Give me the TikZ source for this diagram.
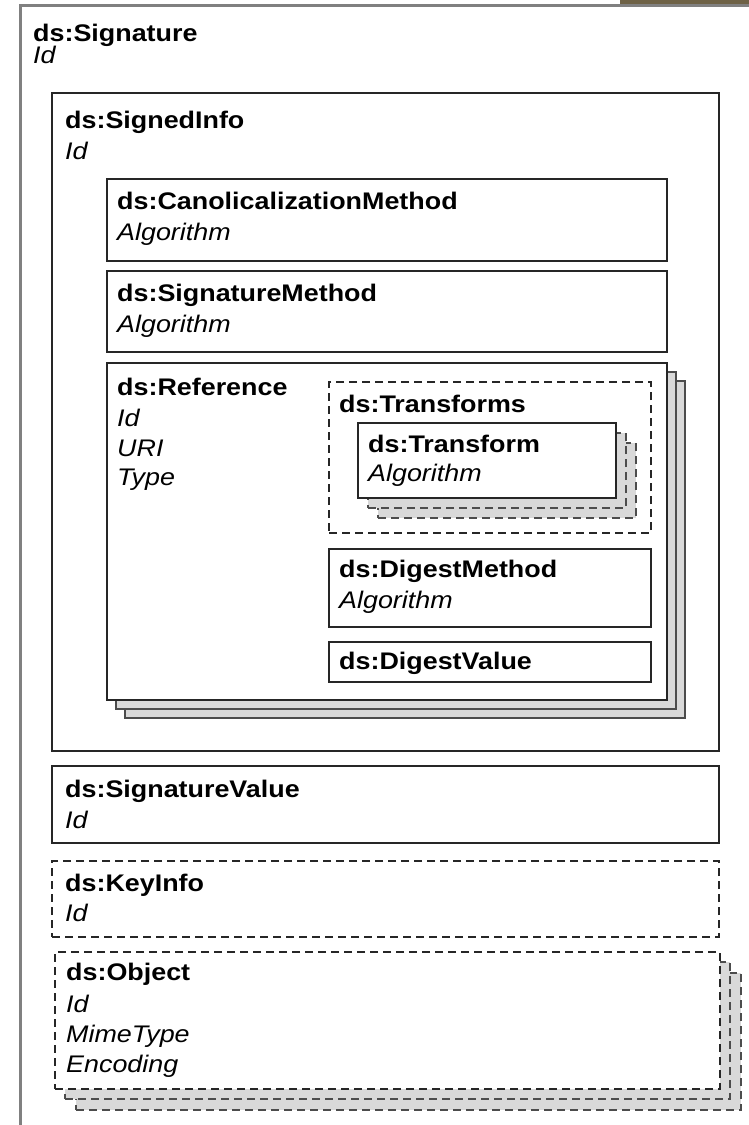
\documentclass[tikz,border=0pt]{standalone}
\usepackage{fontspec}
\setmainfont{Liberation Sans}[FakeStretch=1.12]
\usetikzlibrary{positioning}
\definecolor{tabbrown}{RGB}{110,98,70}
\tikzset{
    % box of one element
    elem/.style={
           rectangle,
           draw=black!85,
           line width=1.5pt,
           fill=white,
           anchor=north west,
           inner sep=0pt,
           outer sep=0pt},
    % optional element
    optelem/.style={
           elem,
           dash pattern=on 8pt off 5pt},
    % copies behind a repeated element
    ghost/.style={
           fill=black!15,
           draw=black!70},
    % element name and attribute names
    tagname/.style={
           anchor=base west,
           inner sep=0pt,
           font=\fontsize{24}{28}\selectfont\bfseries},
    attrname/.style={
           anchor=base west,
           inner sep=0pt,
           font=\fontsize{24}{28}\selectfont\itshape}
}

\begin{document}
\begin{tikzpicture}[x=1pt, y=-1pt]
  \useasboundingbox (0,0) rectangle (749,1125);
  \fill[white] (0,0) rectangle (749,1125);
  \fill[tabbrown] (620,0) rectangle (749,3.5);

  % ds:Signature
  \node[elem, draw=black!50, line width=3pt, minimum width=760pt, minimum height=1140pt] (sig) at (20,5) {};
  \node[tagname] (sigT) at ([shift={(13,36)}]sig.north west) {ds:Signature};
  \node[attrname] (sigId) at ([shift={(0,22)}]sigT.base west) {Id};

  % ds:SignedInfo
  \node[elem, minimum width=667pt, minimum height=658pt] (sinfo) at (52,93) {};
  \node[tagname] (sinfoT) at ([shift={(13,35)}]sinfo.north west) {ds:SignedInfo};
  \node[attrname] (sinfoId) at ([shift={(0,31)}]sinfoT.base west) {Id};

  \node[elem, minimum width=560pt, minimum height=82pt] (canon) at (107,179) {};
  \node[tagname] (canonT) at ([shift={(10,30)}]canon.north west) {ds:CanolicalizationMethod};
  \node[attrname] (canonA) at ([shift={(0,31)}]canonT.base west) {Algorithm};

  \node[elem, minimum width=560pt, minimum height=81pt, below right=10pt and 0pt of canon.south west] (sigm) {};
  \node[tagname] (sigmT) at ([shift={(10,30)}]sigm.north west) {ds:SignatureMethod};
  \node[attrname] (sigmA) at ([shift={(0,31)}]sigmT.base west) {Algorithm};

  % ds:Reference with its copies
  \foreach \d in {18,9}
    \node[elem, ghost, minimum width=560pt, minimum height=337pt] (refcopy\d) at (107+\d,363+\d) {};
  \node[elem, minimum width=560pt, minimum height=337pt] (ref) at (107,363) {};
  \node[tagname] (refT) at ([shift={(10,32)}]ref.north west) {ds:Reference};
  \node[attrname] (refId) at ([shift={(0,31)}]refT.base west) {Id};
  \node[attrname] (refUri) at ([shift={(0,30)}]refId.base west) {URI};
  \node[attrname] (refType) at ([shift={(0,29)}]refUri.base west) {Type};

  \node[optelem, minimum width=322pt, minimum height=151pt] (trfs) at (329,382) {};
  \node[tagname] (trfsT) at ([shift={(10,30)}]trfs.north west) {ds:Transforms};

  \foreach \d in {20,10}
    \node[optelem, ghost, minimum width=258pt, minimum height=75pt] (trfcopy\d) at (358+\d,423+\d) {};
  \node[elem, minimum width=258pt, minimum height=75pt] (trf) at (358,423) {};
  \node[tagname] (trfT) at ([shift={(10,29)}]trf.north west) {ds:Transform};
  \node[attrname] (trfA) at ([shift={(0,29)}]trfT.base west) {Algorithm};

  \node[elem, minimum width=322pt, minimum height=78pt, below right=16pt and 0pt of trfs.south west] (dmeth) {};
  \node[tagname] (dmethT) at ([shift={(10,28)}]dmeth.north west) {ds:DigestMethod};
  \node[attrname] (dmethA) at ([shift={(0,31)}]dmethT.base west) {Algorithm};

  \node[elem, minimum width=322pt, minimum height=40pt, below right=15pt and 0pt of dmeth.south west] (dval) {};
  \node[tagname] (dvalT) at ([shift={(10,27)}]dval.north west) {ds:DigestValue};

  % ds:SignatureValue
  \node[elem, minimum width=667pt, minimum height=77pt] (sval) at (52,766) {};
  \node[tagname] (svalT) at ([shift={(13,31)}]sval.north west) {ds:SignatureValue};
  \node[attrname] (svalId) at ([shift={(0,31)}]svalT.base west) {Id};

  % ds:KeyInfo
  \node[optelem, minimum width=667pt, minimum height=76pt, below right=18pt and 0pt of sval.south west] (kinfo) {};
  \node[tagname] (kinfoT) at ([shift={(13,30)}]kinfo.north west) {ds:KeyInfo};
  \node[attrname] (kinfoId) at ([shift={(0,30)}]kinfoT.base west) {Id};

  % ds:Object with its copies
  \foreach \d in {21,10}
    \node[optelem, ghost, minimum width=665pt, minimum height=137pt] (objcopy\d) at (55+\d,952+\d) {};
  \node[optelem, minimum width=665pt, minimum height=137pt] (obj) at (55,952) {};
  \node[tagname] (objT) at ([shift={(11,28)}]obj.north west) {ds:Object};
  \node[attrname] (objId) at ([shift={(0,32)}]objT.base west) {Id};
  \node[attrname] (objMime) at ([shift={(0,30)}]objId.base west) {MimeType};
  \node[attrname] (objEnc) at ([shift={(0,30)}]objMime.base west) {Encoding};
\end{tikzpicture}
\end{document}
